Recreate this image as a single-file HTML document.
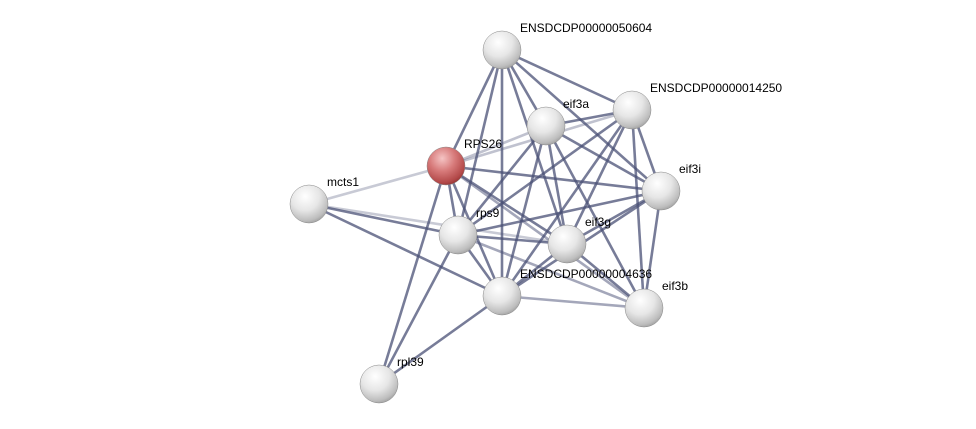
<!DOCTYPE html>
<html><head><meta charset="utf-8"><style>
html,body{margin:0;padding:0;background:#fff;}
svg{display:block;}
text{font-family:"Liberation Sans",sans-serif;font-size:12px;fill:#000;}
</style></head><body>
<svg width="976" height="429" viewBox="0 0 976 429" xmlns="http://www.w3.org/2000/svg">
<defs>
<radialGradient id="g" cx="0.4" cy="0.3" r="0.75">
<stop offset="0" stop-color="#ffffff"/><stop offset="0.5" stop-color="#e6e6e6"/><stop offset="0.85" stop-color="#bdbdbd"/><stop offset="1" stop-color="#9a9a9a"/>
</radialGradient>
<radialGradient id="r" cx="0.4" cy="0.3" r="0.75">
<stop offset="0" stop-color="#f5c4c4"/><stop offset="0.45" stop-color="#d77a7a"/><stop offset="0.85" stop-color="#b24848"/><stop offset="1" stop-color="#8c3030"/>
</radialGradient>
</defs>
<g stroke="#4a5075" stroke-width="2.6" stroke-opacity="0.75" fill="none">
<line x1="446" y1="166" x2="502" y2="50"/>
<line x1="446" y1="166" x2="546" y2="126" stroke-opacity="0.35"/>
<line x1="446" y1="166" x2="632" y2="110" stroke-opacity="0.35"/>
<line x1="446" y1="166" x2="661" y2="191"/>
<line x1="446" y1="166" x2="458" y2="235"/>
<line x1="446" y1="166" x2="567" y2="244"/>
<line x1="446" y1="166" x2="502" y2="296"/>
<line x1="446" y1="166" x2="644" y2="308" stroke-opacity="0.5"/>
<line x1="446" y1="166" x2="309" y2="204" stroke-opacity="0.3"/>
<line x1="446" y1="166" x2="379" y2="384"/>
<line x1="309" y1="204" x2="458" y2="235"/>
<line x1="309" y1="204" x2="502" y2="296"/>
<line x1="309" y1="204" x2="567" y2="244" stroke-opacity="0.3"/>
<line x1="458" y1="235" x2="502" y2="50"/>
<line x1="458" y1="235" x2="546" y2="126"/>
<line x1="458" y1="235" x2="632" y2="110"/>
<line x1="458" y1="235" x2="661" y2="191"/>
<line x1="458" y1="235" x2="567" y2="244"/>
<line x1="458" y1="235" x2="502" y2="296"/>
<line x1="458" y1="235" x2="644" y2="308" stroke-opacity="0.5"/>
<line x1="458" y1="235" x2="379" y2="384"/>
<line x1="379" y1="384" x2="502" y2="296"/>
<line x1="502" y1="50" x2="546" y2="126"/>
<line x1="502" y1="50" x2="632" y2="110"/>
<line x1="502" y1="50" x2="661" y2="191"/>
<line x1="502" y1="50" x2="567" y2="244"/>
<line x1="502" y1="50" x2="502" y2="296"/>
<line x1="546" y1="126" x2="632" y2="110"/>
<line x1="546" y1="126" x2="661" y2="191"/>
<line x1="546" y1="126" x2="567" y2="244"/>
<line x1="546" y1="126" x2="502" y2="296"/>
<line x1="546" y1="126" x2="644" y2="308"/>
<line x1="632" y1="110" x2="661" y2="191"/>
<line x1="632" y1="110" x2="567" y2="244"/>
<line x1="632" y1="110" x2="502" y2="296"/>
<line x1="632" y1="110" x2="644" y2="308"/>
<line x1="661" y1="191" x2="567" y2="244"/>
<line x1="661" y1="191" x2="502" y2="296"/>
<line x1="661" y1="191" x2="644" y2="308"/>
<line x1="567" y1="244" x2="502" y2="296"/>
<line x1="567" y1="244" x2="644" y2="308"/>
<line x1="502" y1="296" x2="644" y2="308" stroke-opacity="0.5"/>
</g>
<g stroke="#888" stroke-width="0.5">
<circle cx="502" cy="50" r="19" fill="url(#g)"/>
<circle cx="546" cy="126" r="19" fill="url(#g)"/>
<circle cx="632" cy="110" r="19" fill="url(#g)"/>
<circle cx="446" cy="166" r="19" fill="url(#r)"/>
<circle cx="309" cy="204" r="19" fill="url(#g)"/>
<circle cx="661" cy="191" r="19" fill="url(#g)"/>
<circle cx="458" cy="235" r="19" fill="url(#g)"/>
<circle cx="567" cy="244" r="19" fill="url(#g)"/>
<circle cx="502" cy="296" r="19" fill="url(#g)"/>
<circle cx="644" cy="308" r="19" fill="url(#g)"/>
<circle cx="379" cy="384" r="19" fill="url(#g)"/>
</g>
<text x="520" y="32">ENSDCDP00000050604</text>
<text x="563" y="108">eif3a</text>
<text x="650" y="92">ENSDCDP00000014250</text>
<text x="464" y="148">RPS26</text>
<text x="327" y="186">mcts1</text>
<text x="679" y="173">eif3i</text>
<text x="476" y="217">rps9</text>
<text x="585" y="226">eif3g</text>
<text x="520" y="278">ENSDCDP00000004636</text>
<text x="662" y="290">eif3b</text>
<text x="397" y="366">rpl39</text>
</svg>
</body></html>
